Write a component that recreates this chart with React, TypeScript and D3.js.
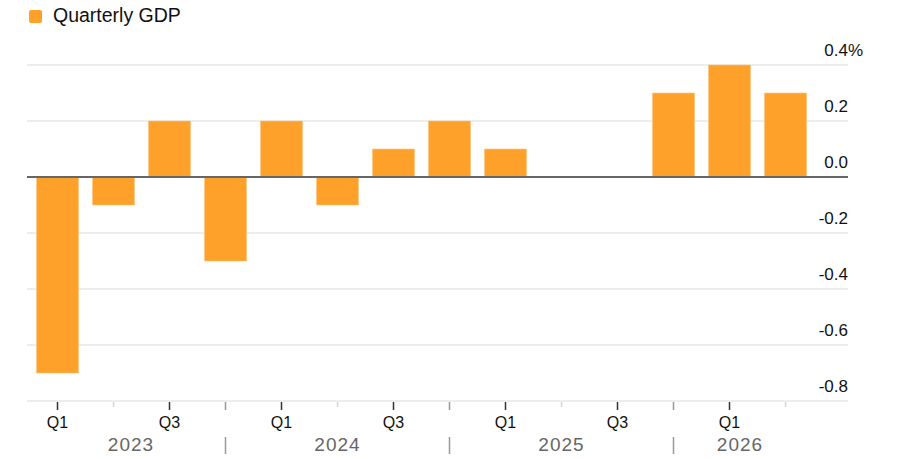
import React, { useEffect, useRef } from 'react';
import * as d3 from 'd3';

// Quarterly GDP, % change
const quarters = [
  '2023Q1', '2023Q2', '2023Q3', '2023Q4',
  '2024Q1', '2024Q2', '2024Q3', '2024Q4',
  '2025Q1', '2025Q2', '2025Q3', '2025Q4',
  '2026Q1', '2026Q2',
];
const gdpValues = [-0.7, -0.1, 0.2, -0.3, 0.2, -0.1, 0.1, 0.2, 0.1, 0, 0, 0.3, 0.4, 0.3];
const yTicks = [0.4, 0.2, 0, -0.2, -0.4, -0.6, -0.8];
const years = ['2023', '2024', '2025', '2026'];

const W = 900;
const H = 459;
const FONT = '"Liberation Sans", Arial, Helvetica, sans-serif';
const BAR = '#fea12b';

export default function App() {
  const svgRef = useRef<SVGSVGElement>(null);

  useEffect(() => {
    if (!svgRef.current) return;
    const svg = d3.select(svgRef.current);
    svg.selectAll('*').remove();

    const gridLeft = 27;
    const gridRight = 848;

    const x = d3
      .scaleBand<string>()
      .domain(quarters)
      .range([29.5, 813.5])
      .paddingInner(0.25)
      .paddingOuter(0.125);

    const y = d3.scaleLinear().domain([-0.8, 0.4]).range([401, 65]);
    const cx = (q: string) => (x(q) || 0) + x.bandwidth() / 2;

    // legend
    svg.append('rect')
      .attr('x', 29).attr('y', 10).attr('width', 13).attr('height', 13)
      .attr('rx', 2).attr('fill', BAR);
    svg.append('text')
      .attr('x', 53).attr('y', 22)
      .attr('font-family', FONT).attr('font-size', 19.5).attr('fill', '#111')
      .text('Quarterly GDP');

    // grid lines
    svg.append('g')
      .selectAll('line')
      .data(yTicks.filter((t) => t !== 0))
      .enter()
      .append('line')
      .attr('x1', gridLeft).attr('x2', gridRight)
      .attr('y1', (d) => y(d)).attr('y2', (d) => y(d))
      .attr('stroke', '#dcdcdc').attr('stroke-width', 1.2);

    // y labels
    const lab = svg.append('g')
      .attr('font-family', FONT).attr('font-size', 17).attr('fill', '#111');
    lab.selectAll('text')
      .data(yTicks)
      .enter()
      .append('text')
      .attr('x', gridRight)
      .attr('y', (d) => y(d) - 9)
      .attr('text-anchor', 'end')
      .text((d) => (d < 0 ? '-' : '') + d3.format('.1f')(Math.abs(d)));
    lab.append('text')
      .attr('x', gridRight).attr('y', y(yTicks[0]) - 9)
      .text('%');

    // bars
    svg.append('g')
      .selectAll('rect')
      .data(gdpValues)
      .enter()
      .append('rect')
      .attr('x', (d, i) => x(quarters[i]) || 0)
      .attr('width', x.bandwidth())
      .attr('y', (d) => y(Math.max(0, d)))
      .attr('height', (d) => Math.abs(y(d) - y(0)))
      .attr('fill', BAR)
      .attr('stroke', '#ffc47a')
      .attr('stroke-width', 0.6);

    // zero line
    svg.append('line')
      .attr('x1', gridLeft).attr('x2', gridRight)
      .attr('y1', y(0)).attr('y2', y(0))
      .attr('stroke', '#666').attr('stroke-width', 2);

    // x axis ticks
    const axisY = y(-0.8);
    const tk = svg.append('g');
    quarters.forEach((q) => {
      const n = q.slice(-1);
      const major = n === '1' || n === '3';
      const len = n === '2' ? 5 : 8;
      const col = major ? '#333' : n === '4' ? '#999' : '#d6d6d6';
      tk.append('line')
        .attr('x1', cx(q)).attr('x2', cx(q))
        .attr('y1', axisY + 1).attr('y2', axisY + 1 + len)
        .attr('stroke', col).attr('stroke-width', 1.5);
      if (major) {
        tk.append('text')
          .attr('x', cx(q)).attr('y', 428)
          .attr('text-anchor', 'middle')
          .attr('font-family', FONT).attr('font-size', 16).attr('fill', '#111')
          .text('Q' + n);
      }
    });

    // year labels and separators
    const firstStart = x(quarters[0]) || 0;
    const lastEnd = (x(quarters[quarters.length - 1]) || 0) + x.bandwidth();
    years.forEach((yr) => {
      const qs = quarters.filter((q) => q.startsWith(yr));
      const prevQ4 = quarters.find((q) => q === `${+yr - 1}Q4`);
      const thisQ4 = quarters.find((q) => q === `${yr}Q4`);
      const left = prevQ4 ? cx(prevQ4) : firstStart;
      const right = thisQ4 ? cx(thisQ4) : lastEnd;
      if (!qs.length) return;
      svg.append('text')
        .attr('x', (left + right) / 2).attr('y', 451)
        .attr('text-anchor', 'middle')
        .attr('font-family', FONT).attr('font-size', 19)
        .attr('letter-spacing', 1)
        .attr('fill', '#666')
        .text(yr);
      if (thisQ4) {
        svg.append('line')
          .attr('x1', cx(thisQ4)).attr('x2', cx(thisQ4))
          .attr('y1', 437).attr('y2', 454)
          .attr('stroke', '#999').attr('stroke-width', 1.5);
      }
    });
  }, []);

  return (
    <svg
      ref={svgRef}
      width={W}
      height={H}
      style={{ position: 'absolute', left: 0, top: 0, background: '#fff' }}
    />
  );
}
